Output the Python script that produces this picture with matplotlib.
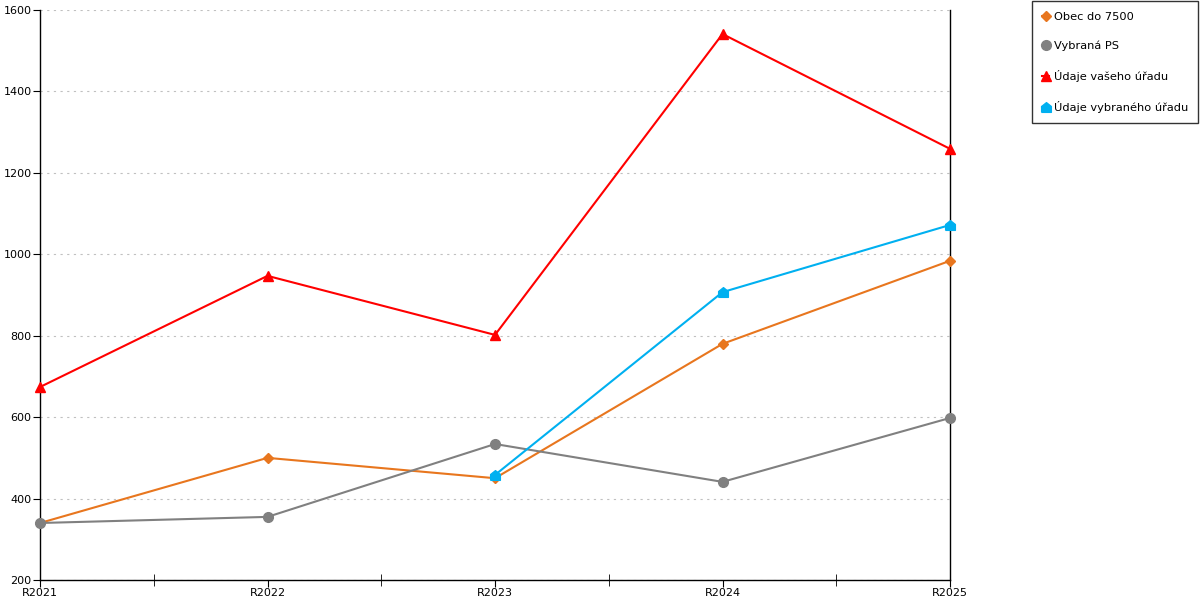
import matplotlib.pyplot as plt
from matplotlib.ticker import MultipleLocator

years = ['R2021', 'R2022', 'R2023', 'R2024', 'R2025']
obec = [340, 500, 450, 780, 984]
vybrana_ps = [340, 355, 534, 441, 598]
vas_urad = [674, 947, 802, 1541, 1259]
vybrany_urad_x = [2, 3, 4]
vybrany_urad = [458, 907, 1072]

house = [(-1, -1), (1, -1), (1, 0.2), (0, 1), (-1, 0.2), (-1, -1)]

fig = plt.figure(figsize=(12, 6), dpi=100)
ax = fig.add_axes([40 / 1200, 20 / 600, 910 / 1200, 570 / 600])

x = list(range(len(years)))
ax.plot(x, obec, color='#E8761E', lw=1.5, marker='D', ms=5, label='Obec do 7500', clip_on=False, zorder=3)
ax.plot(x, vybrana_ps, color='#808080', lw=1.5, marker='o', ms=7, label='Vybraná PS', clip_on=False, zorder=3)
ax.plot(x, vas_urad, color='#FF0000', lw=1.5, marker='^', ms=7, label='Údaje vašeho úřadu', clip_on=False, zorder=3)
ax.plot(vybrany_urad_x, vybrany_urad, color='#00B0F0', lw=1.5, marker=house, ms=7,
        label='Údaje vybraného úřadu', clip_on=False, zorder=3)

ax.set_xlim(0, 4)
ax.set_ylim(200, 1600)
ax.set_xticks(x)
ax.set_xticklabels(years)
ax.xaxis.set_minor_locator(MultipleLocator(0.5))
ax.yaxis.set_major_locator(MultipleLocator(200))
ax.tick_params(axis='both', labelsize=8, length=5, direction='out', pad=1)
ax.tick_params(axis='x', which='minor', length=8, direction='inout')
ax.grid(axis='y', color='#C0C0C0', ls=(0, (2, 4)), lw=0.8)
ax.spines['top'].set_visible(False)
for s in ['left', 'bottom', 'right']:
    ax.spines[s].set_color('black')
    ax.spines[s].set_linewidth(1)

leg = fig.legend(loc='upper right', bbox_to_anchor=(1198 / 1200, 1 - 1 / 600), fontsize=8.2,
                 frameon=True, fancybox=False, edgecolor='black', handlelength=0.6,
                 handletextpad=0.4, labelspacing=1.65, borderpad=0.9, borderaxespad=0,
                 handleheight=0.9)
leg.get_frame().set_linewidth(1)

fig.savefig('out.png', dpi=100)
